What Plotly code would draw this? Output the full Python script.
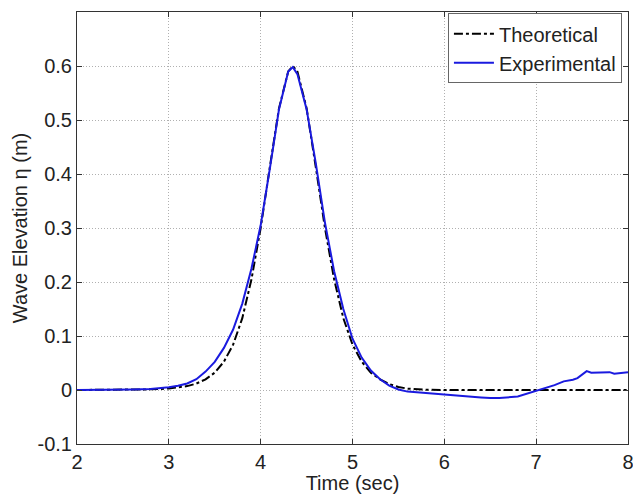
import plotly.graph_objects as go

# Theoretical solitary wave
t_theory = [2.0, 2.5, 2.8, 3.0, 3.1, 3.2, 3.3, 3.4, 3.5, 3.6, 3.7, 3.8, 3.9, 4.0,
            4.1, 4.2, 4.3, 4.35, 4.4, 4.5, 4.6, 4.7, 4.8, 4.9, 5.0, 5.1, 5.2, 5.3,
            5.4, 5.5, 5.6, 5.7, 5.8, 6.0, 7.0, 8.0]
eta_theory = [0.0, 0.0002, 0.0012, 0.0027, 0.0044, 0.0072, 0.0119, 0.0198, 0.032,
              0.0525, 0.084, 0.133, 0.205, 0.30, 0.413, 0.522, 0.590, 0.600, 0.590,
              0.522, 0.413, 0.30, 0.205, 0.133, 0.084, 0.0525, 0.032, 0.0198,
              0.0110, 0.0055, 0.0025, 0.0010, 0.0004, 0.0, 0.0, 0.0]

# Experimental record
t_exp = [2.0, 2.4, 2.6, 2.8, 2.9, 3.0, 3.1, 3.2, 3.3, 3.4, 3.5, 3.6, 3.7, 3.8, 3.9,
         4.0, 4.1, 4.2, 4.3, 4.35, 4.4, 4.5, 4.6, 4.7, 4.8, 4.9, 5.0, 5.1, 5.2, 5.3,
         5.4, 5.5, 5.6, 5.8, 6.0, 6.2, 6.4, 6.5, 6.6, 6.8, 6.9, 7.0, 7.1, 7.2, 7.3,
         7.4, 7.45, 7.5, 7.55, 7.6, 7.7, 7.8, 7.85, 7.9, 8.0]
eta_exp = [0.0, 0.0, 0.001, 0.002, 0.003, 0.005, 0.008, 0.012, 0.020, 0.034, 0.052,
           0.078, 0.112, 0.160, 0.225, 0.305, 0.410, 0.520, 0.590, 0.598, 0.585,
           0.520, 0.420, 0.310, 0.220, 0.150, 0.095, 0.060, 0.036, 0.020, 0.008,
           0.001, -0.003, -0.006, -0.009, -0.012, -0.014, -0.015, -0.015, -0.012,
           -0.007, -0.001, 0.004, 0.009, 0.016, 0.019, 0.022, 0.028, 0.035, 0.032,
           0.033, 0.033, 0.030, 0.031, 0.033]

x_ticks = [2, 3, 4, 5, 6, 7, 8]
y_ticks = [-0.1, 0, 0.1, 0.2, 0.3, 0.4, 0.5, 0.6]
y_tick_labels = ["-0.1", "0", "0.1", "0.2", "0.3", "0.4", "0.5", "0.6"]

font_family = "Liberation Sans, Arial, sans-serif"
fsize = 20

fig = go.Figure()
fig.add_trace(go.Scatter(x=t_theory, y=eta_theory, mode="lines", name="Theoretical",
                         line=dict(color="black", width=2, dash="dashdot")))
fig.add_trace(go.Scatter(x=t_exp, y=eta_exp, mode="lines", name="Experimental",
                         line=dict(color="#1a1adf", width=2)))

axis_common = dict(showline=True, linecolor="#333333", linewidth=1, mirror="ticks",
                   ticks="inside", ticklen=5, tickcolor="#333333",
                   showgrid=True, gridcolor="#b0b0b0", griddash="1px,2px", gridwidth=1,
                   zeroline=False, automargin=False, ticklabeloverflow="allow",
                   tickfont=dict(family=font_family, size=fsize, color="#222222"))

fig.update_layout(
    width=633, height=494,
    margin=dict(l=77, r=5, t=12, b=50),
    paper_bgcolor="white", plot_bgcolor="white",
    font=dict(family=font_family, size=fsize, color="#222222"),
    xaxis=dict(range=[2, 8], tickvals=x_ticks,
               title=dict(text="Time (sec)", standoff=2, font=dict(size=fsize)),
               **axis_common),
    yaxis=dict(range=[-0.1, 0.7], tickvals=y_ticks, ticktext=y_tick_labels,
               title=dict(text="Wave Elevation η (m)", standoff=4, font=dict(size=fsize)),
               **axis_common),
    legend=dict(x=0.989, y=0.997, xanchor="right", yanchor="top",
                bgcolor="white", bordercolor="#666666", borderwidth=1,
                font=dict(family=font_family, size=fsize, color="#222222"),
                tracegroupgap=0, itemwidth=40),
    showlegend=True,
)

fig.write_html("out.html", config={"displayModeBar": False},
               post_script="document.body.style.margin='0';document.body.style.overflow='hidden';")
